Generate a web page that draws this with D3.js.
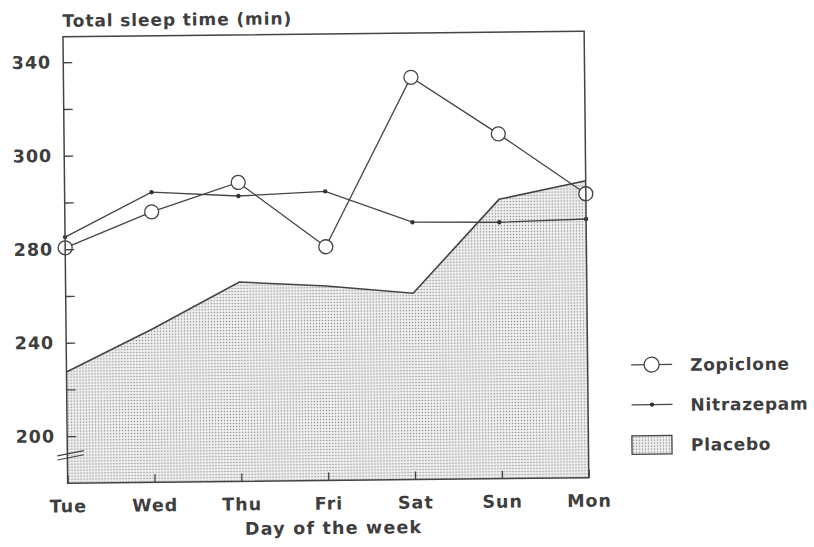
<!DOCTYPE html>
<html>
<head>
<meta charset="utf-8">
<script src="https://cdn.jsdelivr.net/npm/d3@7"></script>
<style>
  html, body { margin: 0; padding: 0; background: #fff; }
  svg { display: block; }
  text { font-family: "DejaVu Sans", sans-serif; font-weight: bold; fill: #3e3e3e; }
</style>
</head>
<body>
<script>
// ---- data ----
const days = ["Tue", "Wed", "Thu", "Fri", "Sat", "Sun", "Mon"];
const zopiclone  = [280.3, 287.8, 293.9, 279.9, 332.0, 307.4, 290.7];
const nitrazepam = [282.6, 292.0, 291.0, 291.8, 285.0, 284.8, 285.3];
const placebo    = [227.5, 245.6, 265.2, 263.1, 259.6, 289.7, 293.5];
const yTickLabels = [200, 240, 280, 300, 340];   // as printed on the axis
const yMinorTicks = [220, 260, 290, 320];
const legendLabels = ["Zopiclone", "Nitrazepam", "Placebo"];
const titleText = "Total sleep time (min)";
const xTitleText = "Day of the week";

// ---- layout ----
const W = 814, H = 547;
const margin = { left: 65.3, top: 34 };
const pw = 521.2, ph = 446.5;
const tickTop = 25.5, tickStep = 93.5;  // pixel position of first labelled tick, spacing
const ink = "#444";

const svg = d3.select("body").append("svg").attr("width", W).attr("height", H);
const defs = svg.append("defs");
const pat = defs.append("pattern").attr("id", "stipple")
  .attr("patternUnits", "userSpaceOnUse").attr("width", 3).attr("height", 3);
pat.append("rect").attr("width", 3).attr("height", 3).attr("fill", "#f0f0f0");
pat.append("circle").attr("cx", 1.5).attr("cy", 1.5).attr("r", 0.75).attr("fill", "#8a8a8a");

defs.append("clipPath").attr("id", "plotclip")
  .append("rect").attr("width", pw).attr("height", ph);

// whole scanned figure is slightly rotated
const root = svg.append("g").attr("transform", "rotate(-0.6, 326, 258)");
const g = root.append("g").attr("transform", `translate(${margin.left},${margin.top})`);

const x = d3.scalePoint().domain(days).range([0, pw]);
const yRange = yTickLabels.map((d, i) => tickTop + (yTickLabels.length - 1 - i) * tickStep);
const y = d3.scaleLinear().domain(yTickLabels).range(yRange);

// placebo area
const areaGen = d3.area().x((d, i) => x(days[i])).y0(ph).y1(d => y(d));
const lineGen = d3.line().x((d, i) => x(days[i])).y(d => y(d));

g.append("path").datum(placebo).attr("clip-path", "url(#plotclip)")
  .attr("d", areaGen).attr("fill", "url(#stipple)");
g.append("path").datum(placebo).attr("d", lineGen)
  .attr("fill", "none").attr("stroke", ink).attr("stroke-width", 1.6);

// nitrazepam
g.append("path").datum(nitrazepam).attr("d", lineGen)
  .attr("fill", "none").attr("stroke", ink).attr("stroke-width", 1.3);
g.selectAll(".ndot").data(nitrazepam).join("circle")
  .attr("cx", (d, i) => x(days[i])).attr("cy", d => y(d)).attr("r", 2.2).attr("fill", "#333");

// zopiclone
g.append("path").datum(zopiclone).attr("d", lineGen)
  .attr("fill", "none").attr("stroke", ink).attr("stroke-width", 1.3);
g.selectAll(".zc").data(zopiclone).join("circle")
  .attr("cx", (d, i) => x(days[i])).attr("cy", d => y(d)).attr("r", 7)
  .attr("fill", "#fff").attr("stroke", ink).attr("stroke-width", 1.3);

// axes
const yAxis = d3.axisLeft(y).tickValues(yTickLabels).tickFormat(d => String(d))
  .tickSizeInner(-9).tickSizeOuter(0).tickPadding(12);
const ya = g.append("g").call(yAxis);
ya.select(".domain").remove();
ya.selectAll("line").attr("stroke", ink).attr("stroke-width", 1.3);
ya.selectAll("text").attr("font-size", 17.5).attr("letter-spacing", 1)
  .attr("font-family", null).attr("fill", "#3e3e3e");

const ym = g.append("g").call(d3.axisLeft(y).tickValues(yMinorTicks).tickFormat("").tickSizeInner(-9).tickSizeOuter(0));
ym.select(".domain").remove();
ym.selectAll("line").attr("stroke", ink).attr("stroke-width", 1.3);

const xAxis = d3.axisBottom(x).tickSizeInner(-8).tickSizeOuter(0);
const xa = g.append("g").attr("transform", `translate(0,${ph})`).call(xAxis);
xa.select(".domain").remove();
xa.selectAll("line").attr("stroke", ink).attr("stroke-width", 1.3);
xa.selectAll("text").attr("y", 29).attr("dy", 0).attr("font-size", 17.5)
  .attr("letter-spacing", 1).attr("font-family", null).attr("fill", "#3e3e3e");

// frame
g.append("rect").attr("width", pw).attr("height", ph)
  .attr("fill", "none").attr("stroke", ink).attr("stroke-width", 1.5);

// axis break marks
[0, 4.2].forEach(off => {
  g.append("line").attr("x1", -10).attr("x2", 16.5)
    .attr("y1", y(200) + 19.5 + off).attr("y2", y(200) + 14.5 + off)
    .attr("stroke", ink).attr("stroke-width", 1.2);
});

// titles
root.append("text").attr("x", 65).attr("y", 24)
  .attr("font-size", 17).attr("letter-spacing", 0.9).text(titleText);
root.append("text").attr("x", margin.left + pw / 2 + 5).attr("y", 534)
  .attr("text-anchor", "middle").attr("font-size", 17.5).attr("letter-spacing", 1.2).text(xTitleText);

// legend
const lg = root.append("g").attr("transform", "translate(630,368)");
const rowGap = 40;
legendLabels.forEach((lab, i) => {
  const row = lg.append("g").attr("transform", `translate(0,${i * rowGap})`);
  if (i === 0) {
    row.append("line").attr("x1", 0).attr("x2", 41).attr("stroke", ink).attr("stroke-width", 1.3);
    row.append("circle").attr("cx", 20.5).attr("r", 7.5).attr("fill", "#fff")
      .attr("stroke", ink).attr("stroke-width", 1.3);
  } else if (i === 1) {
    row.append("line").attr("x1", 0).attr("x2", 41).attr("stroke", ink).attr("stroke-width", 1.3);
    row.append("circle").attr("cx", 20.5).attr("r", 2.2).attr("fill", "#333");
  } else {
    row.append("rect").attr("x", 0).attr("y", -9).attr("width", 40).attr("height", 18.5)
      .attr("fill", "url(#stipple)").attr("stroke", ink).attr("stroke-width", 1.3);
  }
  row.append("text").attr("x", 59).attr("y", 6.5).attr("font-size", 17)
    .attr("letter-spacing", 0.7).text(lab);
});
</script>
</body>
</html>
